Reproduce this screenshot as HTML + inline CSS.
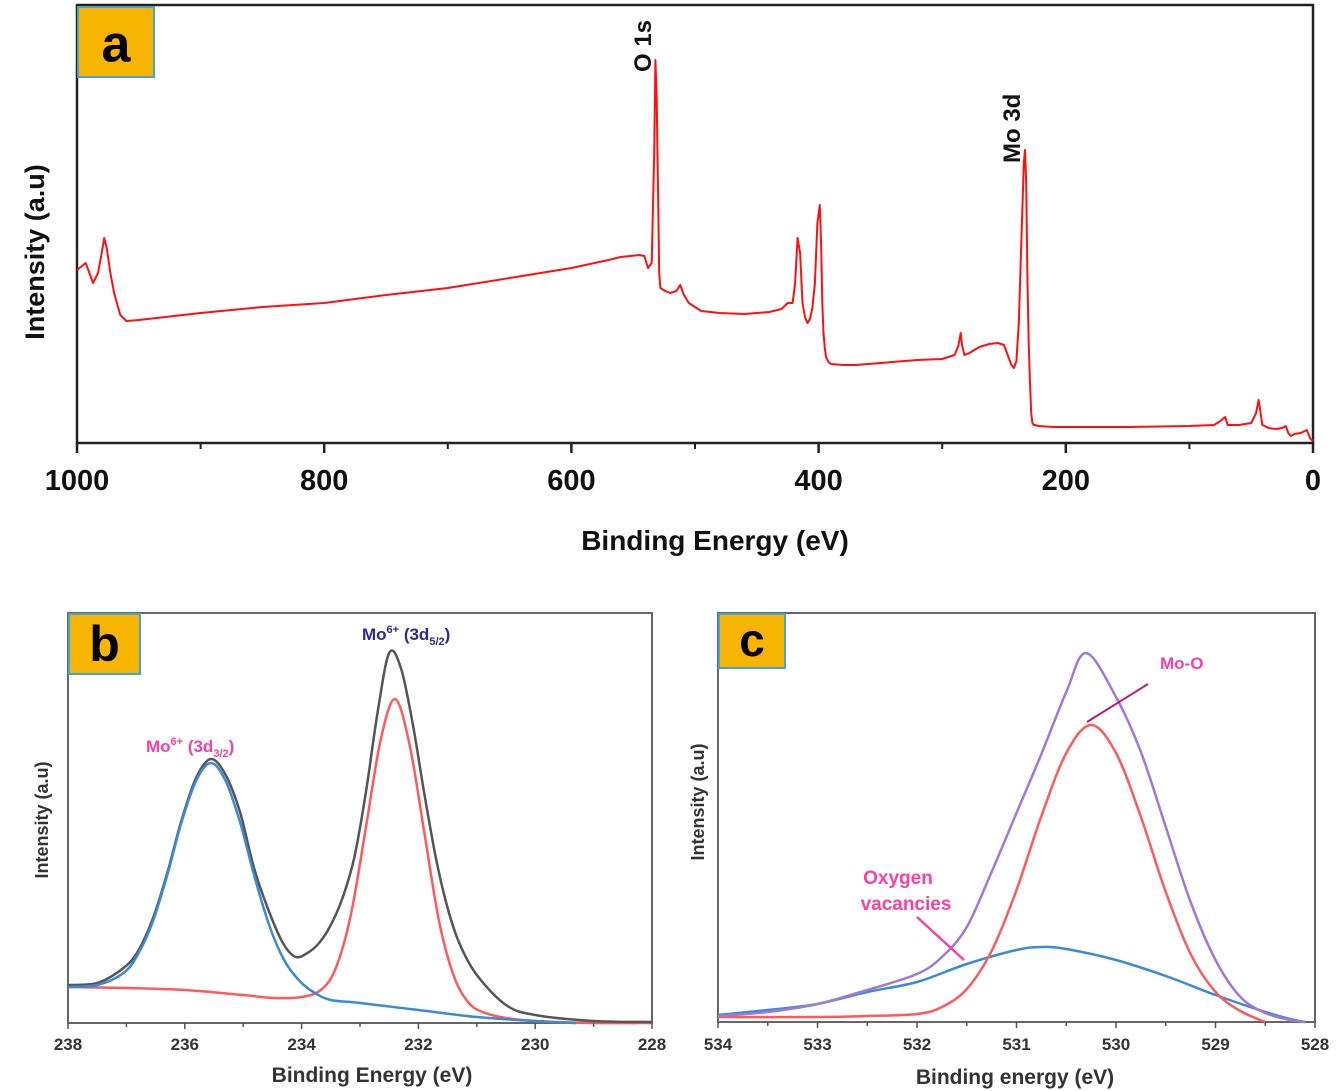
<!DOCTYPE html>
<html><head><meta charset="utf-8"><style>
html,body{margin:0;padding:0;background:#fff;}
svg{display:block;font-family:"Liberation Sans",Arial,sans-serif;}
</style></head><body>
<svg id="fig" width="1338" height="1091" viewBox="0 0 1338 1091" xmlns="http://www.w3.org/2000/svg"></svg>
<script>
// ---------- Panel a: survey spectrum ----------
const aEnergy = [1000,995,993,990,987,983,980,978,976,973,
970,965,960,950,900,850,800,750,700,650,
600,570,560,545,541,538,535,533,532,531,
530,529,528,524,520,515,512,509,505,495,
480,460,450,440,430,425,421,419,417,415,
413,411,409,407,405,403,401,399,398,397,
396,395,394,392,390,380,370,350,320,300,
290,287,285,284,282,278,270,262,255,250,
247,244,242,240,238,236,234,233,232,231,
230,229,228,227,226,225,222,210,150,100,
80,75,71,69,66,60,50,46,44,43,
41,39,36,30,25,22,20,18,15,10,
5,2,0];
const aIntensity = [173,178,180,170,160,170,190,205,195,170,
150,128,122,123,130,136,140,148,155,165,
175,183,186,188,187,175,180,290,383,345,
260,170,155,152,150,152,158,148,140,132,
130,129,130,131,134,140,140,160,205,190,
140,126,120,124,135,160,220,238,200,140,
110,95,86,81,79,78,78,80,83,84,
88,97,110,98,88,90,96,99,100,98,
88,78,75,82,120,200,280,293,260,160,
100,60,30,20,18,18,17,16,16,17,
18,22,26,18,18,18,20,30,43,35,
18,17,15,14,15,17,10,7,9,10,
13,4,2];
const aTicks = [1000,800,600,400,200,0];
const aMinor = [900,700,500,300,100];

// ---------- Panel b: Mo 3d ----------
const bBlackE = [238,237.5,237.05,236.8,236.55,236.3,236.05,235.8,235.55,235.3,235.05,234.8,234.5,234.3,234.1,233.9,233.7,233.5,233.3,233.1,232.9,232.7,232.5,232.3,232.1,231.9,231.7,231.5,231.3,231,230.5,230,229,228];
const bBlackI = [38,40,55,72,104,150,204,246,264,248,210,152,103,78,66,70,80,98,125,165,230,310,370,355,300,230,165,115,80,48,18,8,2,1];
const bBlueE = [238,237.5,237.05,236.8,236.55,236.3,236.05,235.8,235.55,235.3,235.05,234.8,234.55,234.3,234.05,233.8,233.5,233,232,231,230,229.3];
const bBlueI = [36,38,50,69,101,148,202,243,260,242,200,145,97,63,43,31,23,20,13,6,2,0];
const bRedE = [238,237,236,235,234.5,234,233.65,233.4,233.15,232.9,232.65,232.4,232.15,231.9,231.65,231.4,231.15,230.9,230.5,230,229,228];
const bRedI = [36,35,33,28,25,26,34,57,110,195,282,324,278,191,103,48,21,11,5,2,0,0];
const bTicks = [238,236,234,232,230,228];

// ---------- Panel c: O 1s ----------
const cPurpleE = [534,533.5,533,532.5,532,531.75,531.5,531.25,531,530.75,530.5,530.3,530,529.75,529.5,529.25,529,528.75,528.5,528.25,528.1];
const cPurpleI = [6,10,18,32,48,65,95,150,209,268,330,369,325,270,195,120,62,25,9,2,0];
const cRedE = [534,533,532.5,532,531.75,531.5,531.25,531,530.75,530.5,530.25,530,529.75,529.5,529.25,529,528.75,528.5];
const cRedI = [5,5,6,8,15,33,71,132,206,269,297,269,205,130,68,30,11,0];
const cBlueE = [534,533.5,533,532.5,532,531.5,531,530.75,530.5,530,529.5,529,528.5,528.25,528.1];
const cBlueI = [7,12,18,30,40,58,72,75,73,62,46,27,10,3,0];
const cTicks = [534,533,532,531,530,529,528];

const NS = "http://www.w3.org/2000/svg";
const svg = document.getElementById('fig');
function mk(tag, attrs, parent){
  const e = document.createElementNS(NS, tag);
  for (const k in attrs) e.setAttribute(k, attrs[k]);
  (parent||svg).appendChild(e);
  return e;
}
function linScale(d0,d1,r0,r1){return v=>r0+(v-d0)/(d1-d0)*(r1-r0);}
function polyPath(xs, ys){
  const n = Math.min(xs.length, ys.length);
  let d = '';
  for (let i=0;i<n;i++) d += (i?'L':'M')+xs[i].toFixed(1)+' '+ys[i].toFixed(1)+' ';
  return d;
}
function smoothPath(xs, ys){
  const n = Math.min(xs.length, ys.length);
  let d = 'M'+xs[0].toFixed(1)+' '+ys[0].toFixed(1);
  for (let i=0;i<n-1;i++){
    const x0=xs[Math.max(0,i-1)], y0=ys[Math.max(0,i-1)];
    const x1=xs[i], y1=ys[i], x2=xs[i+1], y2=ys[i+1];
    const x3=xs[Math.min(n-1,i+2)], y3=ys[Math.min(n-1,i+2)];
    const c1x=x1+(x2-x0)/6, c1y=y1+(y2-y0)/6, c2x=x2-(x3-x1)/6, c2y=y2-(y3-y1)/6;
    d += ` C${c1x.toFixed(1)} ${c1y.toFixed(1)} ${c2x.toFixed(1)} ${c2y.toFixed(1)} ${x2.toFixed(1)} ${y2.toFixed(1)}`;
  }
  return d;
}
function labelBox(x,y,w,h,letter,fs,name){
  const g = mk('g',{});
  
  
  mk('rect',{x:x,y:y,width:w,height:h,fill:'#f7b500',stroke:'#3fa7d8','stroke-width':2},g);
  const t = mk('text',{x:x+w/2,y:y+h*0.78,'text-anchor':'middle','font-size':fs,'font-weight':'bold',fill:'#000'},g);
  t.textContent = letter;
}

// ===== Panel a =====
(function(){
  const L=77,R=1313,T=5,B=443;
  const x = linScale(1000,0,L,R);
  const y = v => B - v;
  const g = mk('g',{});
  
  
  const frame = mk('rect',{x:L,y:T,width:R-L,height:B-T,fill:'none',stroke:'#222','stroke-width':2.5},g);
  
  
  const line = mk('path',{d:polyPath(aEnergy.map(x),aIntensity.map(y)),fill:'none',stroke:'#ff1010','stroke-width':2,'stroke-linejoin':'round'},g);
  
  
  aTicks.forEach(v=>{
    mk('line',{x1:x(v),x2:x(v),y1:B,y2:B+10,stroke:'#222','stroke-width':2.5},g);
    const t = mk('text',{x:x(v),y:490,'text-anchor':'middle','font-size':29,'font-weight':'bold',fill:'#111'},g);
    
    
    t.textContent = v;
  });
  aMinor.forEach(v=>{ mk('line',{x1:x(v),x2:x(v),y1:B,y2:B+6,stroke:'#222','stroke-width':2},g); });
  const xt = mk('text',{x:715,y:550,'text-anchor':'middle','font-size':28,'font-weight':'bold',fill:'#111'},g);
  
  
  xt.textContent = 'Binding Energy (eV)';
  const yt = mk('text',{x:0,y:0,transform:'translate(44,252) rotate(-90)','text-anchor':'middle','font-size':27,'font-weight':'bold',fill:'#111'},g);
  
  
  yt.textContent = 'Intensity (a.u)';
  const o1 = mk('text',{x:0,y:0,transform:'translate(651,72) rotate(-90)','font-size':24,'font-weight':'bold',fill:'#111'},g);
  
  
  o1.textContent = 'O 1s';
  const mo = mk('text',{x:0,y:0,transform:'translate(1020,163) rotate(-90)','font-size':24,'font-weight':'bold',fill:'#111'},g);
  
  
  mo.textContent = 'Mo 3d';
  labelBox(78,7,76,70,'a',52,'panel-a-label');
})();

// ===== Panel b =====
(function(){
  const L=68,R=652,T=613,B=1023;
  const x = linScale(238,228,L,R);
  const y = v => B - v;
  const g = mk('g',{});
  
  
  mk('rect',{x:L,y:T,width:R-L,height:B-T,fill:'none',stroke:'#666','stroke-width':2},g);
  const red = mk('path',{d:smoothPath(bRedE.map(x),bRedI.map(y)),fill:'none',stroke:'#ff5a5a','stroke-width':2.5},g);
  
  
  const blk = mk('path',{d:smoothPath(bBlackE.map(x),bBlackI.map(y)),fill:'none',stroke:'#555','stroke-width':2.5},g);
  
  
  const blu = mk('path',{d:smoothPath(bBlueE.map(x),bBlueI.map(y)),fill:'none',stroke:'#3a8ad8','stroke-width':2.5},g);
  
  
  bTicks.forEach(v=>{
    mk('line',{x1:x(v),x2:x(v),y1:B,y2:B+6,stroke:'#555','stroke-width':1.5},g);
    const t = mk('text',{x:x(v),y:1050,'text-anchor':'middle','font-size':17,'font-weight':'bold',fill:'#333'},g);
    
    
    t.textContent = v;
  });
  bTicks.slice(0,-1).forEach(v=>{ mk('line',{x1:x(v-1),x2:x(v-1),y1:B,y2:B+4,stroke:'#555','stroke-width':1.5},g); });
  const xt = mk('text',{x:372,y:1082,'text-anchor':'middle','font-size':21,'font-weight':'bold',fill:'#333'},g);
  
  
  xt.textContent = 'Binding Energy (eV)';
  const yt = mk('text',{x:0,y:0,transform:'translate(48,820) rotate(-90)','text-anchor':'middle','font-size':18,'font-weight':'bold',fill:'#333'},g);
  
  
  yt.textContent = 'Intensity (a.u)';
  const l1 = mk('text',{x:362,y:640,'font-size':17,'font-weight':'bold',fill:'#2b2b96'},g);
  
  
  l1.innerHTML = 'Mo<tspan dy="-7" font-size="11">6+</tspan><tspan dy="7"> (3d</tspan><tspan dy="5" font-size="11">5/2</tspan><tspan dy="-5">)</tspan>';
  const l2 = mk('text',{x:146,y:752,'font-size':17,'font-weight':'bold',fill:'#ff3fa0'},g);
  
  
  l2.innerHTML = 'Mo<tspan dy="-7" font-size="11">6+</tspan><tspan dy="7"> (3d</tspan><tspan dy="5" font-size="11">3/2</tspan><tspan dy="-5">)</tspan>';
  labelBox(69,614,71,60,'b',50,'panel-b-label');
})();

// ===== Panel c =====
(function(){
  const L=718,R=1315,T=613,B=1022;
  const x = linScale(534,528,L,R);
  const y = v => B - v;
  const g = mk('g',{});
  
  
  mk('rect',{x:L,y:T,width:R-L,height:B-T,fill:'none',stroke:'#666','stroke-width':2},g);
  const blu = mk('path',{d:smoothPath(cBlueE.map(x),cBlueI.map(y)),fill:'none',stroke:'#3a8ad8','stroke-width':2.5},g);
  
  
  const red = mk('path',{d:smoothPath(cRedE.map(x),cRedI.map(y)),fill:'none',stroke:'#ff5a5a','stroke-width':2.5},g);
  
  
  const pur = mk('path',{d:smoothPath(cPurpleE.map(x),cPurpleI.map(y)),fill:'none',stroke:'#a078d8','stroke-width':2.5},g);
  
  
  cTicks.forEach(v=>{
    mk('line',{x1:x(v),x2:x(v),y1:B,y2:B+6,stroke:'#555','stroke-width':1.5},g);
    const t = mk('text',{x:x(v),y:1050,'text-anchor':'middle','font-size':17,'font-weight':'bold',fill:'#333'},g);
    
    
    t.textContent = v;
  });
  cTicks.slice(0,-1).forEach(v=>{ mk('line',{x1:x(v-0.5),x2:x(v-0.5),y1:B,y2:B+4,stroke:'#555','stroke-width':1.5},g); });
  const xt = mk('text',{x:1015,y:1084,'text-anchor':'middle','font-size':21,'font-weight':'bold',fill:'#333'},g);
  
  
  xt.textContent = 'Binding energy (eV)';
  const yt = mk('text',{x:0,y:0,transform:'translate(704,802) rotate(-90)','text-anchor':'middle','font-size':18,'font-weight':'bold',fill:'#333'},g);
  
  
  yt.textContent = 'Intensity (a.u)';
  mk('line',{x1:1087,y1:722,x2:1148,y2:684,stroke:'#c0187a','stroke-width':2},g);
  mk('line',{x1:917,y1:917,x2:964,y2:960,stroke:'#ff3fa0','stroke-width':2.5},g);
  const m = mk('text',{x:1160,y:669,'font-size':17,'font-weight':'bold',fill:'#ff3fa0'},g);
  
  
  m.textContent = 'Mo-O';
  const o1 = mk('text',{x:898,y:884,'text-anchor':'middle','font-size':19,'font-weight':'bold',fill:'#ff3fa0'},g);
  
  
  o1.textContent = 'Oxygen';
  const o2 = mk('text',{x:906,y:910,'text-anchor':'middle','font-size':19,'font-weight':'bold',fill:'#ff3fa0'},g);
  
  
  o2.textContent = 'vacancies';
  labelBox(719,614,66,54,'c',46,'panel-c-label');
})();
</script>
</body></html>
